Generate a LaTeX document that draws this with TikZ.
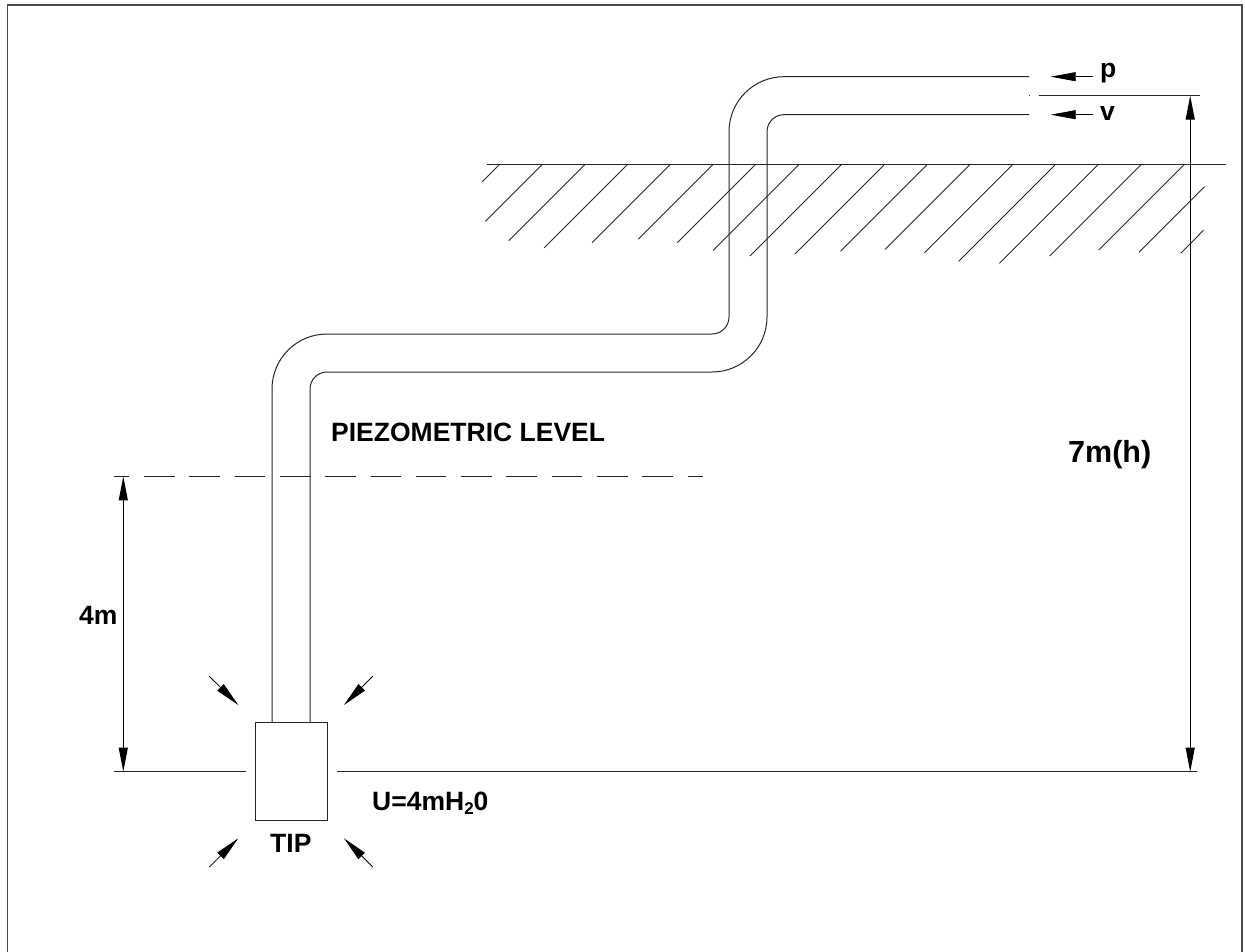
\documentclass[tikz,border=0pt]{standalone}
\usepackage{fontspec}
\setmainfont{Liberation Sans}
\usetikzlibrary{arrows.meta}
\tikzset{
  x=1pt,y=-1pt,
  linework/.style={line width=1pt,black!85},
  hatchline/.style={line width=0.9pt,black!85},
  dimline/.style={line width=1pt,black,{Triangle[length=24pt,width=9pt]}-{Triangle[length=24pt,width=9pt]}},
  flowarrow/.style={line width=0.8pt,black,-{Triangle[length=25pt,width=9pt]}},
  lbl/.style={inner sep=0pt,font=\fontsize{26.5}{26.5}\selectfont\bfseries,anchor=base west},
}
\begin{document}
\begin{tikzpicture}
\useasboundingbox (0,0) rectangle (1245,952);
\draw[line width=1.6pt,black!70] (7.5,952) -- (7.5,5) -- (1242,5) -- (1242,952);
% named points
\coordinate (ptop) at (1029,76.7);
\coordinate (pbot) at (1029,114.7);
\coordinate (boxtl) at (255.3,722.7);
\coordinate (boxbr) at (327,820.3);
% pipe
\draw[linework] (ptop) -- (784,76.7) arc[start angle=-90,end angle=-180,radius=55] -- (729,317) arc[start angle=0,end angle=90,radius=17] -- (327,334) arc[start angle=-90,end angle=-180,radius=55] -- (272,722.7);
\draw[linework] (pbot) -- (784,114.7) arc[start angle=-90,end angle=-180,radius=17] -- (767,317) arc[start angle=0,end angle=90,radius=55] -- (327,372) arc[start angle=-90,end angle=-180,radius=17] -- (310,722.7);
% box
\draw[linework] (boxtl) rectangle (boxbr);
% ground
\draw[linework] (487,164.7) -- (1226,164.7);
\foreach \tx/\bx in {499.3/482,542/485.3,584.7/508.7,627.3/544.3,670/592,712.7/638.3,755.3/677.3,798.7/713,841.3/750,884.2/795,927.1/840.6,969.7/885,1012.6/924.4,1055.2/958.5,1098/999.4,1141/1049.6,1184/1098.8}{
  \pgfmathsetmacro{\by}{164.7+\tx-\bx}
  \draw[hatchline] (\tx,164.7) -- (\bx,\by);
}
\draw[hatchline] (1204.5,186.7) -- (1139,252.3);
\draw[hatchline] (1203.5,230.3) -- (1180.8,253.3);
% levels
\draw[linework] (1038.5,95.7) -- (1199.6,95.7);
\fill[black!70] (1028.5,95.2) rectangle (1029.5,96.2);
\draw[linework] (114,771.7) -- (245.7,771.7);
\draw[linework] (336.7,771.7) -- (1197,771.7);
\draw[linework,dash pattern=on 30.6pt off 14.7pt,dash phase=15.3pt] (114,476.3) -- (703,476.3);
% dimensions
\coordinate (d7a) at (1190.2,95.7);
\coordinate (d7b) at (1190.2,771.7);
\coordinate (d4a) at (123.3,476.3);
\coordinate (d4b) at (123.3,771.7);
\draw[dimline] (d7a) -- (d7b);
\draw[dimline] (d4a) -- (d4b);
% flow arrows
\coordinate (pa) at (1092.5,76.7);
\coordinate (pb) at (1050.7,76.7);
\coordinate (va) at (1092.5,114.7);
\coordinate (vb) at (1050.7,114.7);
\draw[flowarrow] (pa) -- (pb);
\draw[flowarrow] (va) -- (vb);
\coordinate (a1) at (209.3,676.3); \coordinate (a1t) at (238.3,705);
\coordinate (a2) at (372.7,676.3); \coordinate (a2t) at (344,705);
\coordinate (a3) at (209.3,867);   \coordinate (a3t) at (238.3,838.3);
\coordinate (a4) at (372.7,867);   \coordinate (a4t) at (344,838.3);
\draw[flowarrow] (a1) -- (a1t);
\draw[flowarrow] (a2) -- (a2t);
\draw[flowarrow] (a3) -- (a3t);
\draw[flowarrow] (a4) -- (a4t);
% labels
\node[lbl] (lp) at (1100,77.5) {p};
\node[lbl] (lv) at (1100,121) {v};
\node[lbl] (lpiezo) at (331,441.7) {PIEZOMETRIC LEVEL};
\node[lbl,font=\fontsize{30.5}{30.5}\selectfont\bfseries] (l7m) at (1068,462) {7m(h)};
\node[lbl] (l4m) at (79,624) {4m};
\node[lbl] (lu) at (372,810) {U=4mH\raisebox{-4pt}{\fontsize{17}{17}\selectfont 2}0};
\node[lbl] (ltip) at (270,852.7) {TIP};
\end{tikzpicture}
\end{document}
